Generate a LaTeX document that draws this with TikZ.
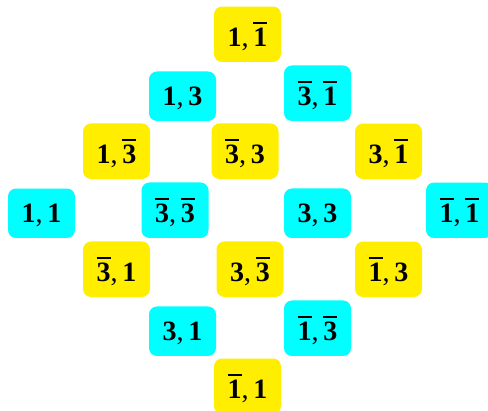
\documentclass[tikz,border=0pt]{standalone}
\usepackage{fontspec}
\setmainfont{Liberation Serif}
\usepackage{xcolor}
\usepackage{tikz}

\definecolor{wyellow}{RGB}{255,238,0}
\definecolor{wcyan}{RGB}{0,255,255}

% bar over a label, and a pair of labels
\newcommand{\ob}[1]{\vbox{\hrule height 2pt\kern 4pt\hbox{#1}}}
\newcommand{\wt}[2]{\textbf{#1},\,\textbf{#2}}

\begin{document}
\begin{tikzpicture}[
    x=1pt, y=1pt,
    font=\fontsize{28}{30}\selectfont,
    wbox/.style={
        rounded corners=8pt,
        minimum width=67pt,
        inner ysep=15.5pt,
        text depth=0pt,
        anchor=base,
        align=center
    },
    ybox/.style={wbox, fill=wyellow},
    cbox/.style={wbox, fill=wcyan}
]
\useasboundingbox (0,0) rectangle (488,411);

% Row 1
\node[ybox] (n1b1) at (247.5,364.5) {\wt{1}{\ob{1}}};

% Row 2
\node[cbox] (n13) at (182.5,305.5) {\wt{1}{3}};
\node[cbox] (nb3b1) at (317.5,305.5) {\wt{\ob{3}}{\ob{1}}};

% Row 3
\node[ybox] (n1b3) at (116.5,247.5) {\wt{1}{\ob{3}}};
\node[ybox] (nb33) at (245,247.5) {\wt{\ob{3}}{3}};
\node[ybox] (n3b1) at (388.5,247.5) {\wt{3}{\ob{1}}};

% Row 4
\node[cbox] (n11) at (41.5,188.5) {\wt{1}{1}};
\node[cbox] (nb3b3) at (175,188.5) {\wt{\ob{3}}{\ob{3}}};
\node[cbox] (n33) at (317.5,188.5) {\wt{3}{3}};
\node[cbox] (nb1b1) at (459.5,188.5) {\wt{\ob{1}}{\ob{1}}};

% Row 5
\node[ybox] (nb31) at (116.5,129.5) {\wt{\ob{3}}{1}};
\node[ybox] (n3b3) at (250,129.5) {\wt{3}{\ob{3}}};
\node[ybox] (nb13) at (388.5,129.5) {\wt{\ob{1}}{3}};

% Row 6
\node[cbox] (n31) at (182.5,70.5) {\wt{3}{1}};
\node[cbox] (nb1b3) at (317.5,70.5) {\wt{\ob{1}}{\ob{3}}};

% Row 7
\node[ybox] (nb11) at (247.5,12.5) {\wt{\ob{1}}{1}};

\end{tikzpicture}
\end{document}
